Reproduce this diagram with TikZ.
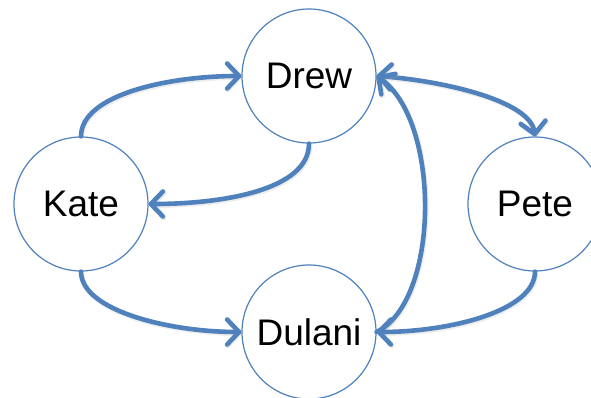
\documentclass[tikz,border=0pt]{standalone}
\usepackage{fontspec}
\setmainfont{Liberation Sans}
\usetikzlibrary{arrows.meta}
\definecolor{ablue}{HTML}{4F81BD}
\tikzset{
  person/.style={circle, draw=ablue, line width=1.2pt, fill=white, minimum size=134pt, inner sep=0pt, font=\fontsize{37}{42}\selectfont},
  link/.style={draw=ablue, line width=4.6pt, line cap=round, line join=round,
    preaction={draw=black!35, opacity=0.2, line width=5pt, transform canvas={shift={(1pt,-1.5pt)}}}},
  tip/.tip={Straight Barb[length=12pt, width=25pt, round]}
}
\begin{document}
\begin{tikzpicture}[x=1pt,y=-1pt]
\useasboundingbox (0,0) rectangle (591,398);
\node[person] (drew) at (309,76) {Drew};
\node[person] (kate) at (81,204) {Kate};
\node[person] (pete) at (535,204) {Pete};
\node[person] (dulani) at (309,332) {Dulani};
\draw[link,-tip] (kate.north) .. controls +(0,-42) and +(-72,0) .. (drew.west);
\draw[link,-tip] (drew.south) .. controls +(0,47) and +(72,0) .. (kate.east);
\draw[link,tip-tip] (drew.east) .. controls +(60,4) and +(-5,-37) .. (pete.north);
\draw[link,-tip] (dulani.east) .. controls +(64,-32) and +(64,44) .. (drew.east);
\draw[link,-tip] (kate.south) .. controls +(0,39) and +(-72,0) .. (dulani.west);
\draw[link,-tip] (pete.south) .. controls +(0,39) and +(74,0) .. (dulani.east);
\end{tikzpicture}
\end{document}
